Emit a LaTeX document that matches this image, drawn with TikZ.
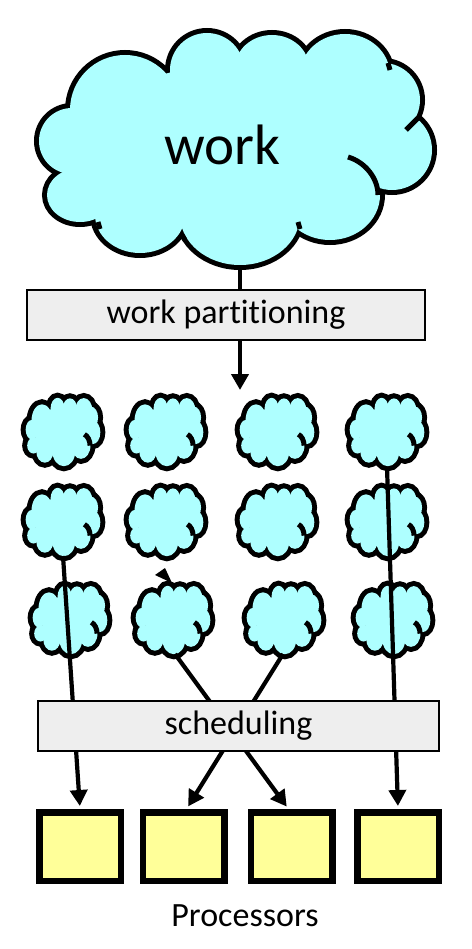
\documentclass[tikz,border=0pt]{standalone}
\usepackage{fontspec}
\setmainfont{Carlito}[Ligatures=NoCommon]
\usetikzlibrary{arrows.meta,calc}
\definecolor{cloudc}{HTML}{AEFFFF}
\definecolor{procc}{HTML}{FFFF99}
\definecolor{barc}{HTML}{EEEEEE}
\def\lobes{-110.5/-39/55/55, -28.5/-79/37/37, 36.5/-81/37/33, 109.5/-74/45/41, 147.5/-49/37/37, 156.5/1/40/40, 94.5/46/50/45, 4.5/66/60/50, -95.5/66/45/38, -155.5/46/33/27, -163.5/-8/33/33}
\newcommand\drawcloud[5]{%
  \begin{scope}[shift={(#1,#2)},xscale=#3,yscale=#4]
    \foreach \a/\b/\c/\d in \lobes {\draw[line width=2*#5pt,fill=cloudc] (\a,\b) ellipse [x radius=\c, y radius=\d];}
    \foreach \a/\b/\c/\d in \lobes {\fill[cloudc] (\a,\b) ellipse [x radius=\c, y radius=\d];}
    \fill[cloudc] (0,0) ellipse [x radius=150, y radius=85];
    \draw[line width=#5pt] (112.5,8) .. controls (129.5,13) and (142.5,29) .. (142.5,46);
  \end{scope}}
\tikzset{
  bar/.style={draw=black,line width=1.2pt,fill=barc,minimum height=50pt,inner sep=0pt,font=\fontsize{34}{40}\selectfont},
  proc/.style={draw=black,line width=6.5pt,fill=procc,minimum width=81.5pt,minimum height=68.5pt,inner sep=0pt},
  conn/.style={line width=4.2pt},
  arr/.style={line width=4.2pt,-{Triangle[length=16pt,width=17pt]}},
  tick/.style={line width=5pt}
}
\begin{document}
\begin{tikzpicture}[x=1pt,y=-1pt]
\useasboundingbox[fill=white] (0,0) rectangle (471,949);
% big cloud
\drawcloud{235.5}{149}{1}{1}{5}
\draw[tick] (418,118) -- (406,130);
\draw[tick] (388,63) -- (390,70);
\draw[tick] (98,222) -- (100,229);
\draw[tick] (182,235) -- (185,240);
\draw[tick] (298,222) -- (300,229);
\node[anchor=base,font=\fontsize{57}{64}\selectfont,inner sep=0pt] (work) at (222.5,165) {work};
\coordinate (bigb) at (240,266);
\coordinate (partend) at (240,390);
\node[bar,minimum width=398pt] (wp) at (226,315) {work partitioning};
\draw[conn] (bigb) -- (bigb |- wp.north);
\draw[arr] (partend |- wp.south) -- (partend);
% small clouds
\foreach \cx/\cy in {63/432,166/432,277/432,387/432,63/522,166/522,277/522,387/522,70/620,173/620,284/620,393/620}{
  \drawcloud{\cx}{\cy}{0.19}{0.295}{5}
}
\coordinate (c21b) at (63,556);
\coordinate (c14b) at (387,467);
\coordinate (c32b) at (175,654);
\coordinate (c33b) at (283,654);
% processors
\foreach \i/\px in {1/80,2/183.5,3/291.5,4/398}{
  \node[proc] (p\i) at (\px,846.5) {};
}
\draw[arr,shorten >=3pt] (c21b) -- (p1.north);
\draw[arr,shorten >=3pt] (c14b) -- (p4.north);
\draw[arr,shorten >=3pt] (c32b) -- ($(p3.north)+(-3,0)$);
\draw[arr,shorten >=3pt] (c33b) -- ($(p2.north)+(3,0)$);
\fill (155,575) -- (165,568) -- (172,583) -- cycle;
\node[bar,minimum width=401pt] (sch) at (238.5,726) {scheduling};
\node[anchor=base,font=\fontsize{34}{40}\selectfont,inner sep=0pt] (procs) at (245,926) {Processors};
\end{tikzpicture}
\end{document}
